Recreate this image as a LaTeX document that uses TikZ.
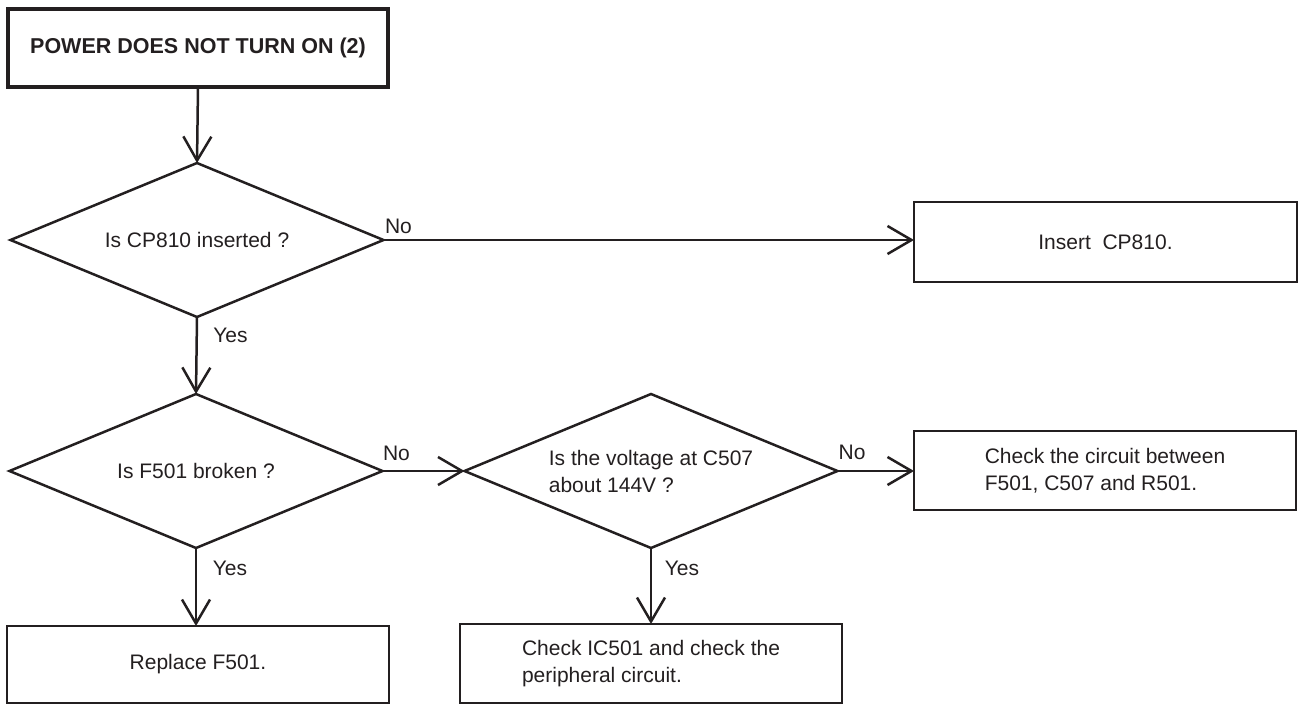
\documentclass[tikz,border=0pt]{standalone}
\usepackage{fontspec}
\setmainfont{Liberation Sans}
\usetikzlibrary{shapes.geometric,arrows.meta}
\definecolor{ink}{RGB}{35,31,32}
\tikzset{
  every node/.style={text=ink, font=\fontsize{21pt}{27pt}\selectfont},
  box/.style={draw=ink, line width=2.5pt, rectangle, inner sep=0pt, outer sep=0pt, align=left},
  titlebox/.style={draw=ink, line width=4.5pt, rectangle, inner sep=0pt, outer sep=0pt,
     minimum width=380pt, minimum height=78pt, font=\fontsize{21.5pt}{27pt}\selectfont\bfseries},
  decision/.style={draw=ink, line width=2.5pt, diamond, aspect=2.42, inner sep=0pt, outer sep=0pt,
     minimum width=373pt, minimum height=154pt, align=left},
  conn/.style={draw=ink, line width=2.5pt, -{Straight Barb[length=24pt,width=28pt,line width=2.5pt]}},
  lbl/.style={inner sep=0pt}
}
\begin{document}
\begin{tikzpicture}[x=1pt,y=-1pt]
\useasboundingbox (0,0) rectangle (1300,706);
\node[titlebox] (title) at (198,48) {POWER DOES NOT TURN ON (2)};
\node[decision] (d1) at (197,240) {Is CP810 inserted ?};
\node[box, minimum width=383pt, minimum height=80pt] (insert) at (1105.5,242) {Insert\ \ CP810.};
\node[decision] (d2) at (196,471) {Is F501 broken ?};
\node[decision] (d3) at (651,471) {Is the voltage at C507\\about 144V ?};
\node[box, minimum width=382pt, minimum height=79pt] (circ) at (1105,470.5) {Check the circuit between\\F501, C507 and R501.};
\node[box, minimum width=382pt, minimum height=77pt] (repl) at (198,664.5) {Replace F501.};
\node[box, minimum width=382pt, minimum height=79pt] (ic) at (651,663.5) {Check IC501 and check the\\peripheral circuit.};

\draw[conn] (title.south) -- (d1.north);
\draw[conn] (d1.east) -- (d1.east -| insert.west);
\draw[conn] (d1.south) -- (d2.north);
\draw[conn] (d2.east) -- (d3.west);
\draw[conn] (d3.east) -- (d3.east -| circ.west);
\draw[conn] (d2.south) -- (d2.south |- repl.north);
\draw[conn] (d3.south) -- (d3.south |- ic.north);

\node[lbl] (no1) at (398.5,226) {No};
\node[lbl] (yes1) at (230.5,335) {Yes};
\node[lbl] (no2) at (396.5,453) {No};
\node[lbl] (yes2) at (230,568) {Yes};
\node[lbl] (no3) at (852,452) {No};
\node[lbl] (yes3) at (682,568) {Yes};
\end{tikzpicture}
\end{document}
